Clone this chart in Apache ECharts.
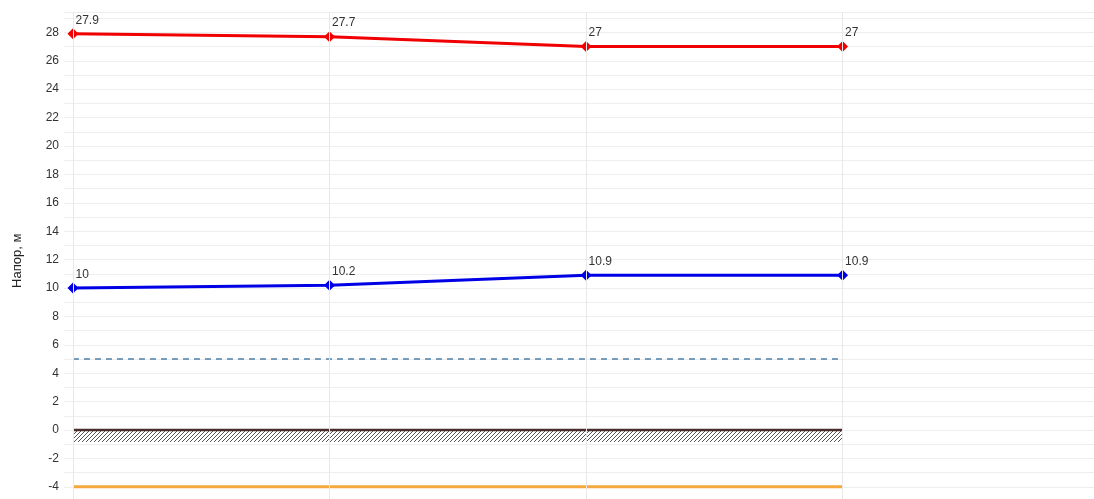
<!DOCTYPE html>
<html>
<head>
<meta charset="utf-8">
<script src="https://cdn.jsdelivr.net/npm/echarts@6/dist/echarts.min.js"></script>
<style>
html,body{margin:0;padding:0;background:#fff;overflow:hidden;}
#c{width:1094px;height:501px;}
</style>
</head>
<body>
<div id="c"></div>
<script>
// ---- data ----
var points = [0, 1, 2, 3];
var headTop = [27.9, 27.7, 27, 27];
var headBottom = [10, 10.2, 10.9, 10.9];
var dashedLevel = [5, 5, 5, 5];
var groundLevel = [0, 0, 0, 0];
var groundHatchDepth = [-0.85, -0.85, -0.85, -0.85];
var lowLevel = [-4, -4, -4, -4];
var yAxisName = 'Напор, м';

function pairs(ys) { return points.map(function (x, i) { return [x, ys[i]]; }); }

// hatch pattern
var pc = document.createElement('canvas');
pc.width = 4; pc.height = 4;
var g = pc.getContext('2d');
g.strokeStyle = '#555';
g.lineWidth = 1;
g.beginPath();
g.moveTo(-1, 5); g.lineTo(5, -1);
g.moveTo(-1, 1); g.lineTo(1, -1);
g.moveTo(3, 5); g.lineTo(5, 3);
g.stroke();

var labelCfg = {
  show: true,
  position: [8, -14],
  color: '#333',
  fontSize: 12,
  fontFamily: 'Liberation Sans, Arial, sans-serif'
};

var chart = echarts.init(document.getElementById('c'), null, {renderer: 'canvas'});
chart.setOption({
  animation: false,
  backgroundColor: '#fff',
  grid: {left: 64, right: 0, top: 12.5, bottom: 0, containLabel: false},
  xAxis: {
    type: 'value',
    min: -0.035,
    max: 3.98,
    axisLine: {show: false},
    axisTick: {show: false},
    axisLabel: {show: false},
    splitLine: {show: false}
  },
  yAxis: {
    type: 'value',
    min: -5,
    max: 29.4,
    interval: 1,
    name: yAxisName,
    nameLocation: 'middle',
    nameGap: 40,
    nameTextStyle: {color: '#222', fontSize: 13, fontFamily: 'Liberation Sans, Arial, sans-serif', padding: [0, 8, 0, 0]},
    axisLine: {show: true, lineStyle: {color: '#e6e6e6'}},
    axisTick: {show: false},
    axisLabel: {
      color: '#333', fontSize: 12, margin: 5,
      fontFamily: 'Liberation Sans, Arial, sans-serif',
      formatter: function (v) {
        return (Math.abs(v - Math.round(v)) < 1e-6 && Math.round(v) % 2 === 0) ? String(Math.round(v)) : '';
      }
    },
    splitLine: {show: true, lineStyle: {color: '#eeeeee', width: 1}}
  },
  series: [
    {
      type: 'line', data: [], silent: true, z: 0,
      markLine: {
        silent: true, symbol: 'none', label: {show: false},
        lineStyle: {color: '#e8e8e8', type: 'solid', width: 1},
        data: points.map(function (x) { return {xAxis: x}; })
      }
    },
    {
      type: 'line', data: pairs(groundHatchDepth), symbol: 'none', silent: true, z: 1,
      lineStyle: {width: 0},
      areaStyle: {color: {image: pc, repeat: 'repeat'}, origin: 0, opacity: 1}
    },
    {
      type: 'line', data: pairs(groundLevel), symbol: 'none', z: 2,
      lineStyle: {color: '#4a2c2c', width: 2.5}
    },
    {
      type: 'line', data: pairs(lowLevel), symbol: 'none', z: 2,
      lineStyle: {color: '#f5a93c', width: 3}
    },
    {
      type: 'line', data: pairs(dashedLevel), symbol: 'none', z: 2,
      lineStyle: {color: '#4f7fa6', width: 1.5, type: [6, 5]}
    },
    {
      type: 'line', data: pairs(headBottom), symbol: 'diamond', symbolSize: 11, z: 3,
      itemStyle: {color: '#0000e6'},
      lineStyle: {color: '#0000e6', width: 3},
      label: labelCfg
    },
    {
      type: 'line', data: pairs(headTop), symbol: 'diamond', symbolSize: 11, z: 3,
      itemStyle: {color: '#f00000'},
      lineStyle: {color: '#f00000', width: 3},
      label: labelCfg
    }
  ]
});
</script>
</body>
</html>
